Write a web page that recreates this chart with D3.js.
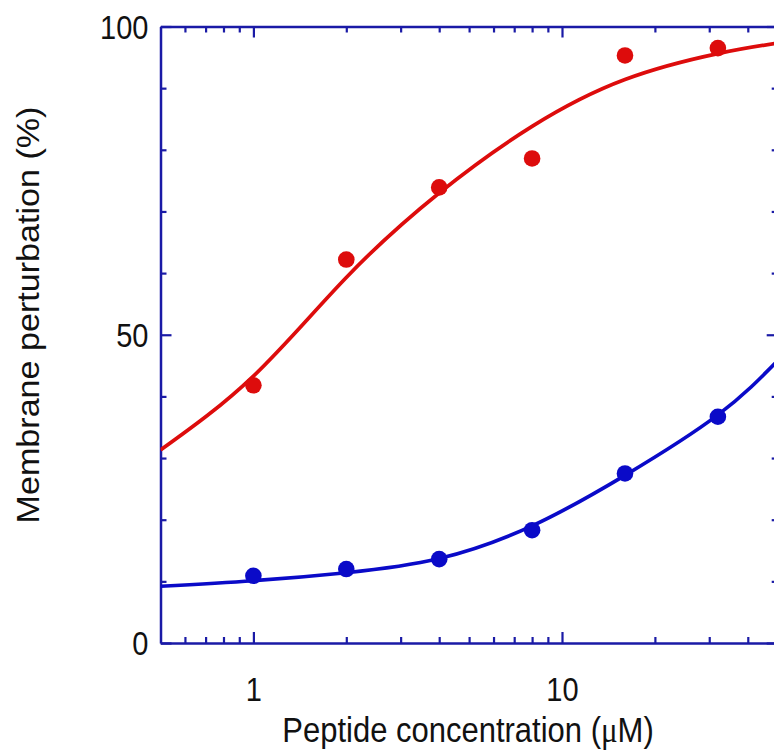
<!DOCTYPE html>
<html>
<head>
<meta charset="utf-8">
<script src="https://cdn.jsdelivr.net/npm/d3@7"></script>
<style>
  html, body { margin: 0; padding: 0; background: #fff; overflow: hidden; }
  svg { display: block; }
  text { font-family: Arial, "Liberation Sans", sans-serif; fill: #111; }
</style>
</head>
<body>
<script>
// Peptide concentrations (µM) at which perturbation was measured
const concentrations = [1, 2, 4, 8, 16, 32];
// Measured membrane perturbation (%)
const redValues  = [41.8, 62.2, 73.9, 78.6, 95.3, 96.5];
const blueValues = [10.9, 12.0, 13.6, 18.3, 27.5, 36.7];

// Fitted dose-response curves, sampled along the concentration axis
const fitX     = [0.5, 1, 2, 4, 8, 16, 32, 50];
const redFitY  = [31.3, 43.3, 59.3, 73.0, 83.8, 91.4, 95.6, 97.3];
const blueFitY = [9.2, 10.1, 11.4, 13.7, 19.0, 27.2, 37.0, 45.8];

// Axis ticks
const xMajorTicks = [1, 10];
const xMinorTicks = [0.6, 0.7, 0.8, 0.9, 2, 3, 4, 5, 6, 7, 8, 9, 20, 30, 40];
const yMajorTicks = [0, 50, 100];
const yMinorTicks = [10, 20, 30, 40, 60, 70, 80, 90];

const W = 774, H = 754;
const plot = { left: 160.5, right: 777.7, top: 26.5, bottom: 643 };
const stretch = 1.13; // glyphs are drawn slightly tall

const axisColor = "#1a1aa6";
const redColor = "#dd0c0c";
const blueColor = "#0a0ac8";

const svg = d3.select("body").append("svg")
  .attr("width", W).attr("height", H);

const x = d3.scaleLog().domain([0.5, 50]).range([plot.left, plot.right]);
const y = d3.scaleLinear().domain([0, 100]).range([plot.bottom, plot.top]);

// ---- axes (ticks point inward on all four sides) ----
function styleLines(g, keepDomain) {
  if (keepDomain) g.selectAll("path.domain").attr("stroke", axisColor).attr("stroke-width", 2.5);
  else g.selectAll("path.domain").remove();
  g.selectAll(".tick line").attr("stroke", axisColor).attr("stroke-width", 2.2);
}
const fmt = d3.format("d");

function side(axisFn, pos, labelled) {
  const horizontal = axisFn === d3.axisBottom || axisFn === d3.axisTop;
  const tr = horizontal ? `translate(0,${pos})` : `translate(${pos},0)`;
  const scale = horizontal ? x : y;
  const minor = horizontal ? xMinorTicks : yMinorTicks;
  const major = horizontal ? xMajorTicks : yMajorTicks;
  svg.append("g").attr("transform", tr)
    .call(axisFn(scale).tickValues(minor).tickSizeInner(-6).tickSizeOuter(0))
    .call(g => { styleLines(g, true); g.selectAll(".tick text").remove(); });
  const gm = svg.append("g").attr("transform", tr)
    .call(axisFn(scale).tickValues(major).tickSizeInner(-11).tickSizeOuter(0).tickFormat(fmt))
    .call(g => styleLines(g, false));
  if (!labelled) gm.selectAll(".tick text").remove();
  return gm;
}

const xb = side(d3.axisBottom, plot.bottom, true);
xb.selectAll(".tick text")
  .attr("y", 0).attr("dy", 0)
  .attr("transform", `translate(0,58) scale(1,${stretch})`)
  .attr("font-size", 29).attr("fill", "#111");
side(d3.axisTop, plot.top, false);
const yl = side(d3.axisLeft, plot.left, true);
yl.selectAll(".tick text")
  .attr("x", 0).attr("dy", "0.36em")
  .attr("transform", `translate(-12,0) scale(1,${stretch})`)
  .attr("font-size", 29).attr("fill", "#111");
side(d3.axisRight, plot.right, false);

// ---- fitted curves ----
const line = d3.line()
  .x(d => x(d[0]))
  .y(d => y(d[1]))
  .curve(d3.curveNatural);

svg.append("clipPath").attr("id", "plot-clip")
  .append("rect")
  .attr("x", plot.left).attr("y", plot.top)
  .attr("width", plot.right - plot.left).attr("height", plot.bottom - plot.top);

const curves = svg.append("g").attr("clip-path", "url(#plot-clip)");
curves.append("path")
  .datum(fitX.map((v, i) => [v, redFitY[i]]))
  .attr("d", line).attr("fill", "none")
  .attr("stroke", redColor).attr("stroke-width", 3.7);
curves.append("path")
  .datum(fitX.map((v, i) => [v, blueFitY[i]]))
  .attr("d", line).attr("fill", "none")
  .attr("stroke", blueColor).attr("stroke-width", 3.7);

// ---- measured points ----
svg.append("g").selectAll("circle")
  .data(concentrations.map((c, i) => [c, redValues[i]]))
  .join("circle")
  .attr("cx", d => x(d[0])).attr("cy", d => y(d[1]))
  .attr("r", 8.3).attr("fill", redColor);
svg.append("g").selectAll("circle")
  .data(concentrations.map((c, i) => [c, blueValues[i]]))
  .join("circle")
  .attr("cx", d => x(d[0])).attr("cy", d => y(d[1]))
  .attr("r", 8.3).attr("fill", blueColor);

// ---- axis titles ----
const xt = svg.append("text")
  .attr("transform", `translate(468,742) scale(1,${stretch})`)
  .attr("text-anchor", "middle").attr("font-size", 31);
xt.append("tspan").text("Peptide concentration (");
xt.append("tspan").attr("font-family", "'Liberation Serif', 'Times New Roman', serif").text("μ");
xt.append("tspan").text("M)");

svg.append("text")
  .attr("transform", "translate(39,315) rotate(-90) scale(1.1,1)")
  .attr("text-anchor", "middle").attr("font-size", 31)
  .text("Membrane perturbation (%)");
</script>
</body>
</html>
